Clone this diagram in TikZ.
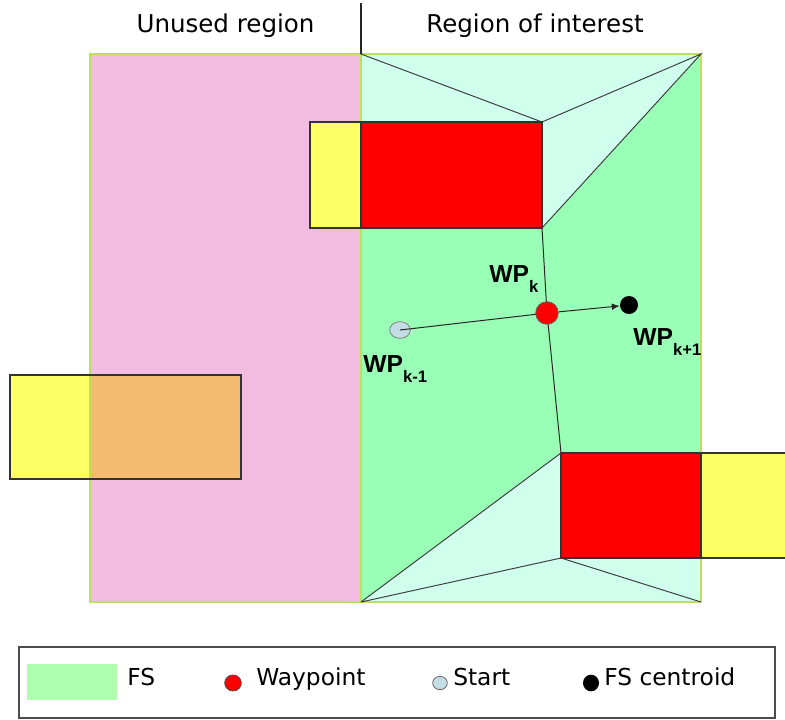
\documentclass[tikz,border=0pt]{standalone}
\usepackage{fontspec}
\setmainfont{DejaVu Sans}
\newfontfamily\wpfont{Liberation Sans}
\newcommand\mywpsub{\wpfont\bfseries\fontsize{12.5}{12.5}\selectfont}
\usetikzlibrary{arrows.meta,shapes.geometric}
\definecolor{pinkc}{RGB}{242,188,225}
\definecolor{greenc}{RGB}{153,255,182}
\definecolor{cyanc}{RGB}{208,255,238}
\definecolor{bordc}{RGB}{190,222,96}
\definecolor{yellowc}{RGB}{255,255,102}
\definecolor{orangec}{RGB}{242,187,112}
\definecolor{startc}{RGB}{196,221,228}
\definecolor{swatchc}{RGB}{174,255,174}
\definecolor{linec}{RGB}{64,64,64}
\begin{document}
\begin{tikzpicture}[x=0.75pt,y=-0.75pt,
  thinline/.style={draw=linec,line width=0.75pt},
  boxline/.style={draw=black!80,line width=1pt},
  areaborder/.style={draw=bordc,line width=1.5pt},
  titletext/.style={font=\fontsize{18.4}{20}\selectfont, anchor=base, inner sep=0},
  wplabel/.style={font=\wpfont\bfseries\fontsize{18.5}{20}\selectfont, anchor=base west, inner sep=0},
  legtext/.style={font=\fontsize{17.5}{20}\selectfont, anchor=base west, inner sep=0}
]
\useasboundingbox (0,0) rectangle (785,719);

% key points
\coordinate (TL) at (361,54);
\coordinate (TR) at (701,54);
\coordinate (BL) at (361,602);
\coordinate (BR) at (701,602);
\coordinate (R1a) at (542,122);
\coordinate (R1b) at (542,228);
\coordinate (R2a) at (561,453);
\coordinate (R2b) at (561,558);
\coordinate (wpc) at (547,313);
\coordinate (divtop) at (361,3);

% regions
\fill[pinkc] (90,54) rectangle (361,602);
\fill[greenc] (361,54) rectangle (701,602);
\fill[cyanc] (361,54) -- (701,54) -- (542,228) -- (361,228) -- cycle;
\fill[cyanc] (361,602) -- (561,453) -- (701,453) -- (701,602) -- cycle;
\draw[areaborder] (90,54) rectangle (BL);
\draw[areaborder] (TL) rectangle (BR);
\draw[draw=black!85, line width=0.8pt] (divtop) -- (TL);

% titles
\node[titletext] (t1) at (225.5,32) {Unused region};
\node[titletext] (t2) at (535,32) {Region of interest};

% left obstacle
\fill[yellowc] (10,375) rectangle (90,479);
\fill[orangec] (90,375) rectangle (241,479);
\draw[areaborder] (90,375) -- (90,479);
\draw[boxline] (10,375) rectangle (241,479);

% diagonals
\draw[thinline] (TL) -- (R1a) -- (TR) -- (R1b);
\draw[thinline] (BL) -- (R2a);
\draw[thinline] (BL) -- (R2b) -- (BR);
\draw[thinline, draw=black!85] (R1b) -- (wpc) -- (R2a);

% top obstacle
\filldraw[boxline, fill=yellowc] (310,122) rectangle (TL |- R1b);
\filldraw[boxline, fill=red] (TL |- R1a) rectangle (R1b);

% bottom obstacle
\filldraw[boxline, fill=yellowc] (BR |- R2a) rectangle (792,558);
\filldraw[boxline, fill=red] (R2a) rectangle (BR |- R2b);

% waypoints
\node[ellipse, fill=startc, draw=gray, line width=0.6pt, minimum width=15.5pt, minimum height=12.5pt, inner sep=0] (start) at (400,330) {};
\draw[thinline, draw=black!85] (start.center) -- (wpc);
\node[circle, fill=red, draw=black!60, line width=0.6pt, minimum size=17pt, inner sep=0] (wp) at (wpc) {};
\node[circle, fill=black, minimum size=13.5pt, inner sep=0] (cen) at (629,305) {};
\draw[thinline, draw=black!85, -{Latex[length=6pt,width=5pt]}] (wp) -- (cen);

\node[wplabel] (lk) at (489,282) {WP\raisebox{-7.5pt}{\mywpsub k}};
\node[wplabel] (lkm) at (363,372) {WP\raisebox{-7.5pt}{\mywpsub k-1}};
\node[wplabel] (lkp) at (633,345) {WP\raisebox{-7.5pt}{\mywpsub k+1}};

% legend
\draw[draw=black!70, line width=1pt] (19,647) rectangle (775,718);
\fill[swatchc] (27,664) rectangle (117,700);
\node[legtext] (lfs) at (127,685) {FS};
\node[ellipse, fill=red, draw=black!70, line width=0.6pt, minimum width=12.5pt, minimum height=12pt, inner sep=0] (dwp) at (233,683) {};
\node[legtext] (lwp) at (256,685) {Waypoint};
\node[ellipse, fill=startc, draw=black!60, line width=0.6pt, minimum width=11pt, minimum height=10pt, inner sep=0] (dst) at (440,683) {};
\node[legtext] (lst) at (453,685) {Start};
\node[ellipse, fill=black, minimum width=12pt, minimum height=12.5pt, inner sep=0] (dce) at (591,683) {};
\node[legtext] (lce) at (604,685) {FS centroid};
\end{tikzpicture}
\end{document}
